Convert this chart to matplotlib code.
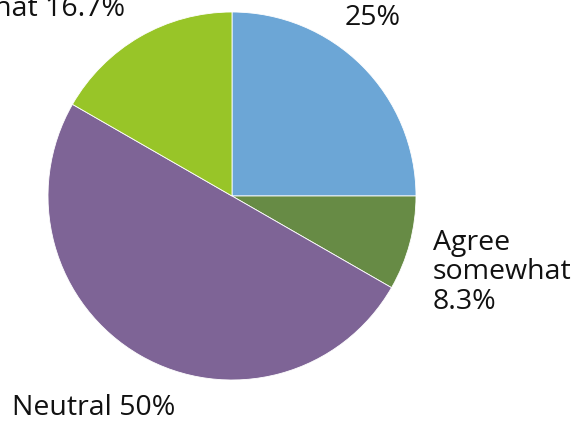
import matplotlib
matplotlib.use('Agg')
import matplotlib.pyplot as plt

plt.rcParams['font.family'] = ['Open Sans', 'DejaVu Sans']

# 数据
labels = ['25%', 'Agree\nsomewhat\n8.3%', 'Neutral 50%', 'Disagree\nsomewhat 16.7%']
values = [25, 8.3, 50, 16.7]
colors = ['#6CA6D6', '#678B45', '#7E6496', '#98C528']

# 标签位置 (数据坐标, 半径=1)
label_pos = [(0.614, 0.929), (1.092, -0.614), (-1.196, -1.190), (-0.582, 0.978)]
label_ha = ['left', 'left', 'left', 'right']


def main():
    fig = plt.figure(figsize=(5.72, 4.21), dpi=100)
    ax = fig.add_axes([0, 0, 1, 1])

    ax.pie(values, colors=colors, startangle=90, counterclock=False,
           radius=1.0, center=(0, 0),
           wedgeprops=dict(edgecolor='white', linewidth=0.6))

    for txt, (x, y), ha in zip(labels, label_pos, label_ha):
        ax.text(x, y, txt, fontsize=20.5, ha=ha, va='baseline',
                linespacing=1.08, color='#111111')

    ax.set_xlim(-232 / 184, (572 - 232) / 184)
    ax.set_ylim(-(421 - 196) / 184, 196 / 184)
    ax.set_aspect('equal')
    ax.axis('off')

    fig.savefig('out.png', dpi=100)


if __name__ == '__main__':
    main()
